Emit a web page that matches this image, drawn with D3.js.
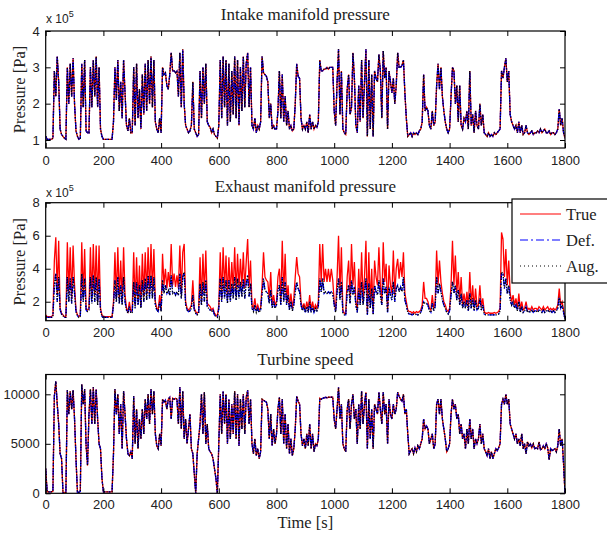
<!DOCTYPE html>
<html>
<head>
<meta charset="UTF-8">
<title>Engine signals</title>
<script src="https://d3js.org/d3.v7.min.js"></script>
<style>
  body { margin: 0; background: #fff; }
  .tick text { font-family: "Liberation Sans", Arial, sans-serif; font-size: 13px; fill: #222; }
  .tick line { stroke: #000; }
</style>
</head>
<body>
<div id="svg-container"></div>
<script>
// samples every 5 s, t = 0 ... 1800
const step = 5;
const xTicks = [0, 200, 400, 600, 800, 1000, 1200, 1400, 1600, 1800];
const intakeTicks = [1, 2, 3, 4];
const exhaustTicks = [2, 4, 6, 8];
const speedTicks = [0, 5000, 10000];
const seriesNames = ["True", "Def.", "Aug."];

// intake manifold pressure [x 1e5 Pa], one row = 100 s
const intake = [
  1.1,1.02,1.02,1.02,1.02,1.05,2.9,2.2,3.3,2.6,1.3,1.15,1.1,1.05,1.02,3.0,2.0,3.1,2.2,3.25,
  2.0,1.25,1.1,1.02,1.05,3.1,1.9,3.2,1.25,1.2,1.2,3.0,1.9,3.2,2.2,3.3,1.9,3.0,1.3,1.1,
  1.02,1.02,1.02,1.02,1.02,1.02,1.02,1.5,3.0,2.1,3.2,1.8,2.6,1.6,3.2,2.3,1.4,1.25,1.6,1.2,
  1.2,3.0,1.4,3.1,1.6,2.4,1.3,2.8,1.7,3.1,1.8,3.2,2.0,3.3,1.9,3.2,1.5,1.3,1.2,1.6,
  1.2,3.0,2.8,2.85,2.5,2.4,2.8,3.4,2.9,2.9,2.85,2.9,2.2,3.4,1.9,3.5,2.0,1.4,1.3,1.2,
  1.25,1.4,2.6,1.3,1.2,1.1,1.15,2.9,1.6,3.0,2.0,3.1,1.5,1.4,1.35,1.2,1.3,1.15,1.1,1.05,
  1.4,3.2,1.6,3.3,1.9,3.2,1.4,3.1,1.5,2.9,1.7,3.3,1.6,3.2,1.4,3.0,1.8,3.3,1.9,3.1,
  3.4,1.9,3.0,1.4,1.3,1.6,1.2,1.4,1.3,1.5,3.3,2.85,2.8,2.75,2.6,1.6,2.0,1.3,1.4,1.3,
  1.3,1.8,2.9,1.6,2.8,1.5,2.2,1.4,1.8,1.3,1.4,1.25,1.3,2.0,3.1,2.75,2.7,1.6,1.3,1.4,
  1.3,1.5,1.2,1.7,1.3,1.5,1.3,1.4,1.35,1.5,3.2,2.9,2.9,2.95,2.95,3.0,2.95,3.0,3.0,3.0,
  1.8,1.4,2.6,3.5,1.7,2.9,1.3,1.2,1.15,2.4,2.8,1.7,1.9,3.4,2.7,1.4,1.2,2.5,1.5,3.2,
  1.6,2.6,3.5,1.1,3.2,1.3,2.8,1.1,2.9,2.7,2.6,3.35,2.9,1.6,3.45,2.7,3.0,1.3,2.9,2.6,
  2.3,2.7,2.0,2.5,3.4,3.0,3.0,3.05,3.2,2.3,1.6,1.1,1.15,1.2,1.1,1.2,1.15,1.2,1.15,1.25,
  1.3,1.5,2.8,1.8,1.9,1.8,1.4,1.3,1.8,1.4,1.5,2.5,3.1,2.4,3.0,2.2,1.8,1.5,1.3,1.2,
  1.3,2.2,3.0,2.9,2.0,2.5,1.5,2.5,1.4,1.3,1.6,1.5,1.8,1.3,2.9,1.4,1.7,1.2,1.8,1.4,
  1.3,2.0,1.4,1.7,1.2,1.15,1.1,1.2,1.1,1.15,1.1,1.2,1.15,1.2,1.25,1.3,2.9,2.7,3.0,3.25,
  2.6,2.9,1.7,1.5,1.4,1.3,1.4,1.2,1.5,1.2,1.4,1.15,1.2,1.4,1.2,1.15,1.2,1.25,1.15,1.2,
  1.2,1.25,1.2,1.3,1.2,1.25,1.3,1.2,1.2,1.25,1.15,1.2,1.2,1.15,1.2,1.3,1.85,1.4,1.6,1.2,
  1.05
];

// exhaust manifold pressure, measured [x 1e5 Pa]
const exhaustTrue = [
  1.2,1.1,1.1,1.1,1.1,1.2,4.5,5.9,2.5,5.7,1.6,1.3,1.2,1.1,1.1,5.6,2.5,5.3,2.2,5.4,
  3.0,1.5,1.2,1.1,1.2,5.6,2.3,5.2,1.6,1.5,1.6,5.3,2.2,5.5,2.4,5.4,2.0,5.4,1.6,1.2,
  1.1,1.1,1.1,1.1,1.1,1.1,1.1,2.0,5.0,2.2,5.3,2.2,4.5,2.0,5.3,2.4,1.6,1.4,2.0,1.4,
  1.5,5.0,1.8,4.7,2.0,4.2,1.7,4.9,2.3,5.0,2.4,5.3,2.5,5.5,2.6,5.2,2.0,1.6,1.5,2.4,
  1.5,4.9,3.0,4.0,2.8,3.8,2.9,5.5,3.0,3.7,2.9,3.6,2.8,5.4,2.5,5.0,5.5,2.0,1.6,1.5,
  1.6,1.8,3.3,1.6,1.4,1.3,1.4,4.7,2.0,4.9,2.5,5.1,1.9,1.8,1.7,1.5,1.6,1.3,1.2,1.1,
  1.8,5.0,2.2,5.3,2.8,4.8,2.2,4.7,2.4,4.4,2.6,5.3,2.5,4.9,2.8,4.6,2.9,5.0,2.8,4.4,
  5.8,2.9,4.5,1.8,1.6,2.2,1.5,1.8,1.5,1.6,3.0,5.0,3.5,3.3,3.2,2.2,3.8,1.8,2.4,1.8,
  2.0,3.5,4.0,2.0,5.7,2.4,4.9,2.0,3.0,1.7,2.5,1.6,2.2,3.5,4.7,3.7,3.5,2.0,1.6,1.9,
  1.5,2.0,1.5,2.4,1.5,2.0,1.5,1.8,1.6,2.0,5.5,3.2,5.5,3.2,4.0,3.2,4.0,3.2,4.0,3.3,
  2.0,1.5,3.5,6.0,2.5,5.3,1.5,1.3,1.3,3.5,4.5,2.2,5.5,3.0,4.4,2.0,1.5,4.0,2.0,5.0,
  2.0,3.5,5.7,1.3,5.0,1.8,4.0,1.3,4.5,3.5,3.0,5.3,3.0,2.0,5.6,3.2,4.3,1.5,4.2,3.0,
  2.5,5.1,2.4,4.0,4.6,3.4,4.4,3.5,5.0,2.5,2.0,1.5,1.4,1.4,1.3,1.4,1.3,1.4,1.35,1.4,
  1.5,1.8,3.2,2.2,2.2,2.0,1.6,1.5,2.4,1.6,2.0,5.1,3.0,4.5,3.2,2.5,2.0,1.8,1.5,1.4,
  1.6,3.0,5.7,3.0,4.8,2.5,3.8,2.0,3.5,1.8,2.5,1.8,2.6,1.6,3.8,1.8,3.0,1.6,2.8,1.7,
  1.8,3.0,1.7,2.2,1.4,1.3,1.3,1.35,1.3,1.3,1.3,1.35,1.3,1.35,1.4,1.6,6.2,5.8,3.5,5.2,
  3.0,4.5,2.5,2.0,2.4,1.8,2.2,1.6,2.5,1.5,2.0,1.5,1.6,2.0,1.5,1.6,1.5,1.7,1.5,1.6,
  1.6,1.5,1.7,1.6,1.5,1.7,1.5,1.6,1.7,1.5,1.6,1.5,1.6,1.5,1.6,1.8,2.8,1.8,2.0,1.5,
  1.0
];

// exhaust manifold pressure, models (Def. and Aug.) [x 1e5 Pa]
const exhaustModel = [
  1.1,1.05,1.05,1.05,1.05,1.1,3.0,3.7,2.0,3.5,1.5,1.25,1.15,1.05,1.05,3.5,2.0,3.4,1.9,3.5,
  2.5,1.4,1.15,1.05,1.1,3.7,2.0,3.4,1.5,1.4,1.5,3.5,1.9,3.6,2.0,3.5,1.8,3.4,1.5,1.1,
  1.05,1.05,1.05,1.05,1.05,1.05,1.05,1.8,3.3,2.0,3.5,1.9,3.0,1.8,3.5,2.0,1.5,1.3,1.7,1.3,
  1.35,3.2,1.6,3.2,1.8,3.0,1.6,3.3,2.0,3.4,2.1,3.6,2.2,3.6,2.2,3.5,1.8,1.5,1.4,2.0,
  1.4,3.3,2.5,3.0,2.5,2.7,2.4,3.6,2.5,2.6,2.4,2.6,2.4,3.7,2.2,3.5,3.8,1.8,1.5,1.4,
  1.45,1.6,2.4,1.5,1.3,1.2,1.3,3.1,1.8,3.2,2.0,3.3,1.7,1.6,1.5,1.4,1.5,1.2,1.1,1.05,
  1.6,3.4,2.0,3.5,2.2,3.3,1.9,3.3,2.0,3.1,2.2,3.5,2.1,3.4,2.2,3.2,2.3,3.4,2.2,3.1,
  3.6,2.3,3.1,1.6,1.4,1.8,1.35,1.6,1.35,1.5,2.5,3.4,2.7,2.6,2.5,1.9,2.7,1.6,2.0,1.6,
  1.8,2.7,3.0,1.8,3.5,2.0,3.2,1.8,2.4,1.5,2.0,1.45,1.8,2.6,3.2,2.8,2.6,1.8,1.45,1.7,
  1.35,1.7,1.35,2.0,1.35,1.7,1.35,1.6,1.45,1.7,3.4,2.6,3.4,2.5,2.6,2.5,2.6,2.5,2.6,2.5,
  1.8,1.35,2.6,3.4,2.1,3.2,1.35,1.2,1.2,2.6,3.0,1.9,3.3,2.4,2.9,1.8,1.35,2.8,1.8,3.2,
  1.8,2.6,3.4,1.2,3.1,1.6,2.8,1.2,3.0,2.6,2.4,3.3,2.4,1.8,3.4,2.5,2.9,1.35,2.9,2.4,
  2.1,3.2,2.0,2.8,3.0,2.6,2.9,2.6,3.5,2.1,1.8,1.35,1.25,1.25,1.2,1.25,1.2,1.25,1.2,1.25,
  1.35,1.6,2.0,1.9,1.9,1.8,1.45,1.35,1.9,1.45,1.7,3.5,2.5,3.1,2.6,2.1,1.8,1.6,1.35,1.25,
  1.45,2.4,3.2,2.5,3.0,2.1,2.7,1.8,2.5,1.6,2.0,1.6,2.1,1.45,2.5,1.6,2.2,1.45,2.1,1.5,
  1.6,2.2,1.5,1.8,1.25,1.2,1.2,1.2,1.2,1.2,1.2,1.2,1.2,1.2,1.25,1.45,3.8,3.7,2.8,3.4,
  2.5,3.0,2.1,1.8,2.0,1.6,1.8,1.45,2.0,1.35,1.7,1.35,1.45,1.7,1.35,1.45,1.35,1.5,1.35,1.45,
  1.45,1.35,1.5,1.45,1.35,1.5,1.35,1.45,1.5,1.35,1.45,1.35,1.45,1.35,1.45,1.6,2.3,1.6,1.8,1.35,
  0.95
];

// turbine speed
const speed = [
  2500,150,150,150,150,200,9800,11300,9000,7000,4000,3500,0,100,100,10400,8000,10300,8500,10400,
  7500,3500,100,100,200,11000,9000,10500,4800,2800,8000,10500,7000,10700,7000,10500,7500,5000,4500,1500,
  150,150,150,150,150,150,150,4000,10500,8000,10000,6000,9000,4500,10300,8000,5500,4000,3800,4200,
  3500,9800,5000,8500,4500,7500,5500,8500,6000,9500,7500,10000,7000,10500,8000,10300,6000,4800,4500,6000,
  4800,9500,9200,9400,8500,9500,9700,7500,9600,9500,9600,9500,7000,10700,6500,10300,5500,7500,5000,6500,
  8000,4500,4000,2000,0,4000,5500,7000,10000,6000,10200,5000,7000,4500,4200,4000,3500,2500,1500,0,
  5000,10000,6000,10300,7000,10000,5000,9500,5500,9000,6000,10300,5500,10000,4800,9500,6500,10000,6000,9700,
  10400,7000,9500,5000,4000,5500,3800,4500,3500,4200,9500,9400,9300,9200,8500,5500,8000,4800,6500,5000,
  6000,8500,9700,6000,9500,5000,8000,4500,7000,4000,5500,3800,4500,6500,9800,9300,9000,6000,4800,5500,
  4500,6000,4800,7000,4500,6000,4200,5000,4800,5500,9600,9500,9600,9650,9700,9650,9700,9700,9700,9700,
  7500,6500,8500,10700,7500,9000,5000,4500,4200,8500,9500,6500,9000,10000,7500,8500,5000,9000,6500,10300,
  7000,9000,10200,4500,9500,5500,8500,4500,9000,8500,8000,10200,8500,7000,10200,8000,9000,5000,9500,8000,
  7500,9000,8000,8500,10200,9800,9500,9300,10000,8000,8500,6000,4000,4300,4500,4000,4600,4200,4800,4500,
  5000,5500,7500,6500,6800,6500,5000,5500,6000,4500,5000,9000,9500,8000,9500,7500,6500,5500,4200,4500,
  5000,8000,9500,8500,9000,7500,8000,6000,7000,5500,6000,4500,6500,5000,7500,5500,6500,4500,5500,5000,
  5500,7000,5000,6000,4500,4200,3800,4500,3500,4200,3500,4000,4500,4300,4600,5000,9000,9500,9000,10000,
  9000,9500,7000,6500,6000,5500,6000,5000,5500,4800,6000,4500,5000,4000,5200,4800,5000,4600,5000,4500,
  4600,4500,5200,4400,4500,4800,4500,5000,4600,3400,4500,4300,4400,4500,4200,4800,6500,4800,5500,3000,
  0
];

const W = 607, H = 534;
const left = 45.7, right = 565;

const svg = d3.select("#svg-container")
  .append("svg")
  .attr("width", W)
  .attr("height", H)
  .style("font-family", "'Liberation Serif', 'Times New Roman', serif");

const styles = [
  {color: "#ff0000", dash: null},
  {color: "#0000ff", dash: "7,3,2,3"},
  {color: "#000000", dash: "1.2,1.5"}
];

const panels = [
  {title: "Intake manifold pressure", top: 31, bottom: 148, domain: [0.78, 4], ticks: intakeTicks,
   data: [intake, intake, intake], ylabel: "Pressure [Pa]", exp: true, titleY: 20, expY: 23, pad: 8},
  {title: "Exhaust manifold pressure", top: 202.7, bottom: 320.7, domain: [0.85, 8], ticks: exhaustTicks,
   data: [exhaustTrue, exhaustModel, exhaustModel], ylabel: "Pressure [Pa]", exp: true, titleY: 191.5, expY: 196.5, pad: 7},
  {title: "Turbine speed", top: 374.5, bottom: 493.3, domain: [0, 12000], ticks: speedTicks,
   data: [speed, speed, speed], ylabel: null, exp: false, titleY: 365, pad: 6}
];

const x = d3.scaleLinear().domain([0, 1800]).range([left, right]);

panels.forEach((p, k) => {
  const y = d3.scaleLinear().domain(p.domain).range([p.bottom, p.top]);
  const g = svg.append("g");

  g.append("clipPath").attr("id", "clip" + k)
    .append("rect")
    .attr("x", left).attr("y", p.top)
    .attr("width", right - left).attr("height", p.bottom - p.top);

  const line = d3.line()
    .x((d, i) => x(i * step))
    .y(d => y(d));

  const lines = g.append("g").attr("clip-path", `url(#clip${k})`);
  p.data.forEach((vals, j) => {
    lines.append("path")
      .datum(vals)
      .attr("d", line)
      .attr("fill", "none")
      .attr("stroke", styles[j].color)
      .attr("stroke-width", 1.3)
      .attr("stroke-dasharray", styles[j].dash);
  });

  // axes, ticks pointing inward
  const fmt = d3.format("d");
  g.append("g").attr("transform", `translate(0,${p.bottom})`)
    .call(d3.axisBottom(x).tickValues(xTicks).tickFormat(fmt).tickSize(-5).tickSizeOuter(0).tickPadding(p.pad))
    .call(a => a.select(".domain").remove());
  g.append("g").attr("transform", `translate(0,${p.top})`)
    .call(d3.axisTop(x).tickValues(xTicks).tickFormat("").tickSize(-5).tickSizeOuter(0))
    .call(a => a.select(".domain").remove());
  g.append("g").attr("transform", `translate(${left},0)`)
    .call(d3.axisLeft(y).tickValues(p.ticks).tickFormat(fmt).tickSize(-5).tickSizeOuter(0).tickPadding(6))
    .call(a => a.select(".domain").remove());
  g.append("g").attr("transform", `translate(${right},0)`)
    .call(d3.axisRight(y).tickValues(p.ticks).tickFormat("").tickSize(-5).tickSizeOuter(0))
    .call(a => a.select(".domain").remove());

  g.append("rect")
    .attr("x", left).attr("y", p.top)
    .attr("width", right - left).attr("height", p.bottom - p.top)
    .attr("fill", "none").attr("stroke", "#000").attr("stroke-width", 1.2);

  g.append("text")
    .attr("x", (left + right) / 2).attr("y", p.titleY)
    .attr("text-anchor", "middle")
    .attr("font-size", 17)
    .attr("fill", "#222")
    .text(p.title);

  if (p.exp) {
    const t = g.append("text")
      .attr("x", 46).attr("y", p.expY)
      .attr("font-family", "'Liberation Sans', Arial, sans-serif")
      .attr("font-size", 12)
      .attr("fill", "#222");
    t.append("tspan").text("x 10");
    t.append("tspan").attr("dy", -6).attr("font-size", 9).text("5");
  }

  if (p.ylabel) {
    g.append("text")
      .attr("transform", `translate(25,${(p.top + p.bottom) / 2}) rotate(-90)`)
      .attr("text-anchor", "middle")
      .attr("font-size", 16.5)
      .attr("fill", "#222")
      .text(p.ylabel);
  }
});

svg.append("text")
  .attr("x", (left + right) / 2).attr("y", 528)
  .attr("text-anchor", "middle")
  .attr("font-size", 16.5)
  .attr("fill", "#222")
  .text("Time [s]");

// legend
const legend = svg.append("g");
legend.append("rect")
  .attr("x", 512).attr("y", 199)
  .attr("width", 100).attr("height", 84)
  .attr("fill", "#fff").attr("stroke", "#000").attr("stroke-width", 1.2);

seriesNames.forEach((name, j) => {
  const ly = 214 + j * 26;
  legend.append("line")
    .attr("x1", 520).attr("x2", 561)
    .attr("y1", ly).attr("y2", ly)
    .attr("stroke", styles[j].color)
    .attr("stroke-width", 1.1)
    .attr("stroke-dasharray", j == 1 ? "8,3,2,3" : j == 2 ? "1,3" : null);
  legend.append("text")
    .attr("x", 566).attr("y", ly + 5.5)
    .attr("font-size", 16.5)
    .attr("fill", "#222")
    .text(name);
});
</script>
</body>
</html>
